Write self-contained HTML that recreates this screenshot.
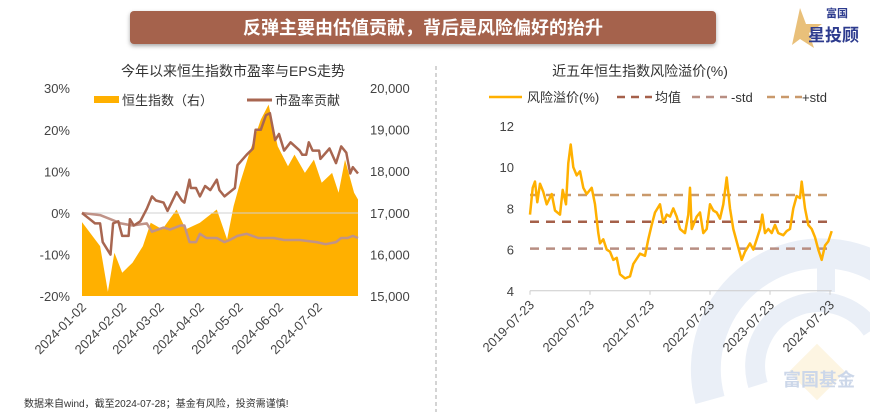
<!DOCTYPE html>
<html><head><meta charset="utf-8">
<style>
body{margin:0;background:#fff;}
#wrap{position:relative;width:870px;height:412px;overflow:hidden;background:#fff;font-family:"Liberation Sans","Noto Sans CJK SC",sans-serif;}
svg text{font-family:"Liberation Sans","Noto Sans CJK SC",sans-serif;}
</style></head>
<body>
<div id="wrap">
<svg id="svg" width="870" height="412" xmlns="http://www.w3.org/2000/svg">
  <g>
    <path d="M 710 400 A 116 116 0 0 1 885 272" fill="none" stroke="#eaeff7" stroke-width="30"/>
    <path d="M 826 266 L 826 292" stroke="#eaeff7" stroke-width="18"/>
    <path d="M 758 385 A 64 64 0 0 1 872 330" fill="none" stroke="#eaeff7" stroke-width="20"/>
    <rect x="797" y="352" width="40" height="40" fill="#fdf5e2" transform="rotate(45 817 372)"/>
    <text x="819" y="386" font-size="18" font-weight="bold" fill="#ccd7e9" text-anchor="middle">富国基金</text>
  </g>
  <g>
    <rect x="130" y="11" width="586" height="33" rx="4" fill="#a5624c" style="filter:drop-shadow(0 2px 2px rgba(0,0,0,0.35))"/>
    <text x="423" y="34" font-size="18" font-weight="bold" fill="#fff" text-anchor="middle">反弹主要由估值贡献，背后是风险偏好的抬升</text>
  </g>
  <g>
    <polygon points="800,8 806,24 822,24 809,33 814,48 800,39 792,45" fill="#e9c07a"/>
    <text x="826" y="17" font-size="11" font-weight="bold" fill="#2d3b8e">富国</text>
    <text x="808" y="41" font-size="17" font-weight="bold" fill="#2d3b8e">星投顾</text>
  </g>
  <line x1="436" y1="66" x2="436" y2="412" stroke="#aaa" stroke-dasharray="4,3"/>
  <g id="left"></g>
  <g id="right"></g>
  <text x="24" y="407" font-size="10" fill="#333">数据来自wind，截至2024-07-28；基金有风险，投资需谨慎!</text>
</svg>
</div>
<script>
const idxDays = [0,14,20,25,31,39,47,53,62,73,80,91,104,112,117,122,130,138,144,151,159,164,172,179,185,193,198,203,210,213];
const idxVals = [16776,16200,15100,16040,15560,15800,16200,16760,16600,17080,16600,16760,17080,16360,17160,17720,18520,19240,19600,18600,18120,18400,17960,18280,17720,17960,17480,18280,17480,17320];
const peDays = [0,6,10,14,16,20,22,24,28,31,36,37,40,45,50,54,57,63,66,73,77,79,83,84,88,91,95,99,104,106,110,114,118,120,127,132,134,138,142,145,149,152,156,161,168,170,173,175,178,183,184,191,196,200,204,207,209,213];
const peVals = [0,-1.5,-2.5,-2.5,-7,-9,-10,-2.5,-2,-5.5,-5.5,-1.5,-3,-2,1,4,3,2.5,0.5,5,3,2.5,8,6,6,4,6.5,5.5,8,5.5,4,5,6,11.5,14,15.5,20,20,23.5,24,17.5,19,15,17,15,14,14,17,15,15,13,15.5,12,16,14.5,9.5,11,9.5];
const epsDays = [0,14,22,30,39,50,54,63,68,76,79,83,88,91,96,104,110,114,120,127,136,148,156,168,181,188,196,200,205,209,213];
const epsVals = [0,-0.5,-1.5,-2.5,-3,-2.5,-4.5,-3.5,-4,-3,-3,-7,-7,-5,-6,-6,-7,-6.5,-5.5,-5,-6,-6,-6.5,-6.5,-7,-7.5,-7,-6,-6,-5.5,-6];
const leftTicks = ['30%','20%','10%','0%','-10%','-20%'];
const leftTickVals = [30,20,10,0,-10,-20];
const rightTicks = ['20,000','19,000','18,000','17,000','16,000','15,000'];
const rightTickVals = [20000,19000,18000,17000,16000,15000];
const dateLabels = ['2024-01-02','2024-02-02','2024-03-02','2024-04-02','2024-05-02','2024-06-02','2024-07-02'];
const dateDays = [0,31,60,91,121,152,182];
const rpT = [270,278,285,292,300,310,320,335,345,360,368,378,385,392,400,410,420,430,440,455,465,475,480,490,500,510,520,530,540,555,570,580,600,615,625,635,645,660,670,680,690,700,710,720,735,745,750,755,770,780,790,800,810,820,830,840,850,860,870,880,895,905,915,930,940,950,960,967,975,985,995,1005,1015,1030,1040,1050,1060,1070,1080,1085,1095,1105,1115,1125,1135,1145,1155,1165,1175];
const rpVals = [7.7,9.0,9.3,8.3,9.2,8.8,8.2,8.7,7.9,7.7,8.9,8.2,10.2,11.1,10.0,9.6,9.8,9.0,8.7,9.0,8.2,6.8,6.3,6.5,6.0,5.9,5.5,5.6,4.8,4.6,4.7,5.3,5.8,5.7,6.5,7.2,7.8,8.2,7.3,7.7,7.6,8.0,7.6,7.0,6.8,7.7,9.0,7.0,7.6,7.8,6.8,7.0,8.2,7.9,7.8,7.5,8.2,9.5,8.0,7.0,6.1,5.5,5.9,6.3,6.0,6.5,7.0,7.7,6.8,7.0,6.8,7.2,6.8,6.7,6.9,7.0,8.0,8.6,8.5,9.3,8.0,7.2,7.0,6.6,6.0,5.5,6.2,6.4,6.9];
const meanVal = 7.35, minusStd = 6.05, plusStd = 8.65;
const rTicks = ['12','10','8','6','4'];
const rTickVals = [12,10,8,6,4];
const yearLabels = ['2019-07-23','2020-07-23','2021-07-23','2022-07-23','2023-07-23','2024-07-23'];
const yearT = [270,450,630,810,990,1170];

const NS='http://www.w3.org/2000/svg';
function mk(parent,tag,attrs,text){const e=document.createElementNS(NS,tag);for(const k in attrs)e.setAttribute(k,attrs[k]);if(text!==undefined)e.textContent=text;parent.appendChild(e);return e;}

const L=document.getElementById('left');
const lx=d=>82+(d/213)*276;
const ly=v=>213-(v/10)*41.6;
const ry=v=>296-((v-15000)/1000)*41.6;
let t=mk(L,'text',{x:233,y:76,'font-size':14,fill:'#333','text-anchor':'middle'},'今年以来恒生指数市盈率与EPS走势');


let lg=mk(L,'g',{});


mk(lg,'rect',{x:94,y:96,width:25,height:7,fill:'#ffb000'});
mk(lg,'text',{x:122,y:105,'font-size':13,fill:'#333'},'恒生指数（右）');
mk(lg,'line',{x1:247,y1:100,x2:272,y2:100,stroke:'#a86650','stroke-width':3});
mk(lg,'text',{x:275,y:105,'font-size':13,fill:'#333'},'市盈率贡献');
let ap='M'+lx(idxDays[0])+','+ry(15000);
idxDays.forEach((d,i)=>{ap+=' L'+lx(d).toFixed(1)+','+ry(idxVals[i]).toFixed(1);});
ap+=' L'+lx(idxDays[idxDays.length-1])+','+ry(15000)+' Z';
let a=mk(L,'path',{d:ap,fill:'#ffb000'});


mk(L,'line',{x1:82,y1:ly(0),x2:358,y2:ly(0),stroke:'#d0d0d0','stroke-width':1});
leftTickVals.forEach((v,i)=>{
  let e=mk(L,'text',{x:70,y:ly(v)+5,'font-size':13,fill:'#444','text-anchor':'end'},leftTicks[i]);
  
  
});
rightTickVals.forEach((v,i)=>{
  let e=mk(L,'text',{x:370,y:ry(v)+5,'font-size':13,fill:'#444'},rightTicks[i]);
  
  
});
dateDays.forEach((d,i)=>{
  let x=lx(d);
  let e=mk(L,'text',{x:x+5,y:308,'font-size':13,fill:'#444','text-anchor':'end',transform:`rotate(-45 ${x+5} 308)`},dateLabels[i]);
  
  
});
function line(parent,xs,ys,fx,fy,color,w,name){
  let p='';xs.forEach((x,i)=>{p+=(i?' L':'M')+fx(x).toFixed(1)+','+fy(ys[i]).toFixed(1);});
  let e=mk(parent,'path',{d:p,fill:'none',stroke:color,'stroke-width':w,'stroke-linejoin':'round'});
  
  
}
line(L,epsDays,epsVals,lx,ly,'#c09388',2.5,'eps-contribution-line');
line(L,peDays,peVals,lx,ly,'#a86650',2.5,'pe-contribution-line');

const R=document.getElementById('right');
const rx=z=>440+z/3;
const rY=v=>126+(12-v)*20.6;
t=mk(R,'text',{x:640,y:76,'font-size':14,fill:'#333','text-anchor':'middle'},'近五年恒生指数风险溢价(%)');


let rl=mk(R,'g',{});


mk(rl,'line',{x1:489,y1:97,x2:522,y2:97,stroke:'#ffb000','stroke-width':2.5});
mk(rl,'text',{x:527,y:102,'font-size':13,fill:'#333'},'风险溢价(%)');
mk(rl,'line',{x1:617,y1:97,x2:652,y2:97,stroke:'#a5604a','stroke-width':2.5,'stroke-dasharray':'8,6'});
mk(rl,'text',{x:655,y:102,'font-size':13,fill:'#333'},'均值');
mk(rl,'line',{x1:692,y1:97,x2:727,y2:97,stroke:'#b88e82','stroke-width':2.5,'stroke-dasharray':'8,6'});
mk(rl,'text',{x:731,y:102,'font-size':13,fill:'#333'},'-std');
mk(rl,'line',{x1:767,y1:97,x2:802,y2:97,stroke:'#c9996b','stroke-width':2.5,'stroke-dasharray':'8,6'});
mk(rl,'text',{x:802,y:102,'font-size':13,fill:'#333'},'+std');
rTickVals.forEach((v,i)=>{
  let e=mk(R,'text',{x:514,y:rY(v)+5,'font-size':13,fill:'#444','text-anchor':'end'},rTicks[i]);
  
  
});
mk(R,'line',{x1:rx(270),y1:rY(4),x2:rx(1175),y2:rY(4),stroke:'#ccc'});
yearT.forEach((z,i)=>{
  let x=rx(z);
  mk(R,'line',{x1:x,y1:rY(4),x2:x,y2:rY(4)+4,stroke:'#ccc'});
  let e=mk(R,'text',{x:x+5,y:rY(4)+15,'font-size':13,fill:'#444','text-anchor':'end',transform:`rotate(-45 ${x+5} ${rY(4)+15})`},yearLabels[i]);
  
  
});
[[plusStd,'#c9996b','plus-std-line'],[meanVal,'#a5604a','mean-line'],[minusStd,'#b88e82','minus-std-line']].forEach(s=>{
  let e=mk(R,'line',{x1:rx(270),y1:rY(s[0]),x2:rx(1175),y2:rY(s[0]),stroke:s[1],'stroke-width':2.5,'stroke-dasharray':'9,7'});
  
  
});
line(R,rpT,rpVals,rx,rY,'#ffb000',2.5,'risk-premium-line');
</script>
</body></html>
